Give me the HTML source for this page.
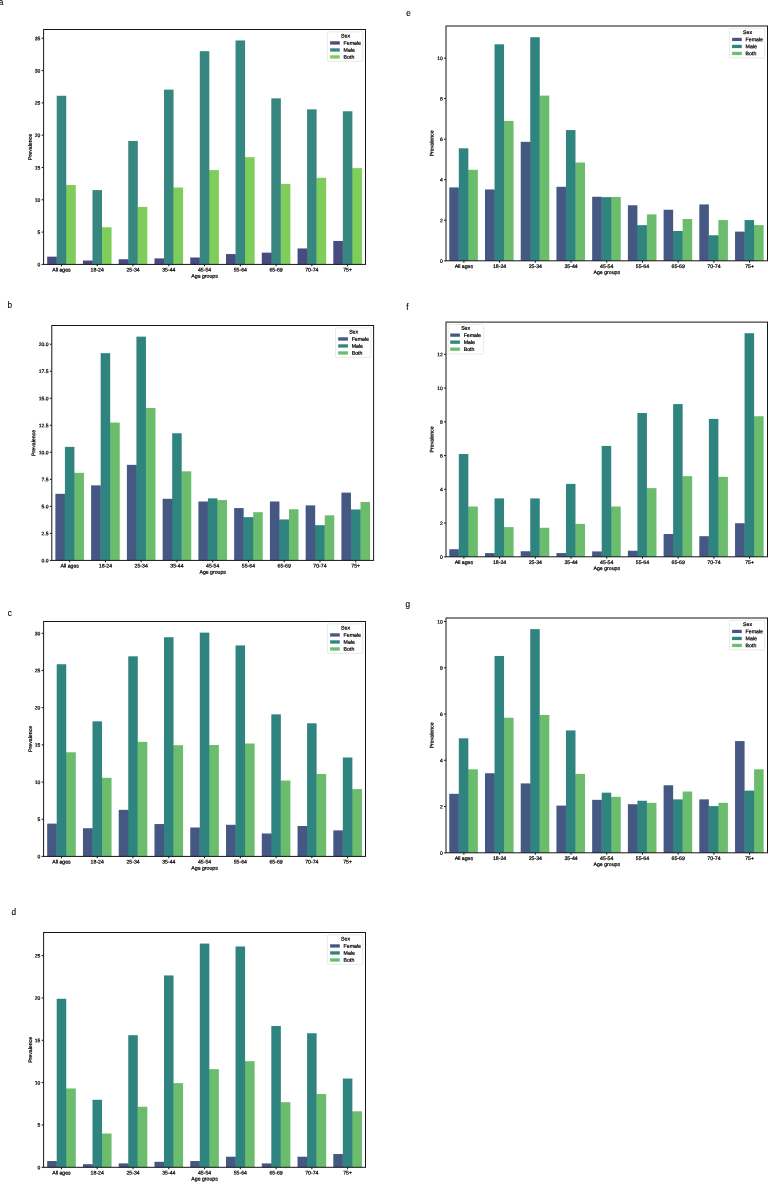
<!DOCTYPE html>
<html><head><meta charset="utf-8"><title>Prevalence by age group and sex</title>
<style>
html,body{margin:0;padding:0;background:#fff;}
body{width:768px;height:1182px;overflow:hidden;}
svg{display:block;will-change:transform;}
text{font-family:"Liberation Sans",sans-serif;font-size:5.2px;fill:#000;stroke:#000;stroke-width:0.22;}
.pl{font-size:8.2px;fill:#000;stroke:#000;stroke-width:0.12;}
.yt{font-size:5px;}
.tk{stroke:#000;stroke-width:0.95;}
.fr{fill:none;stroke:#151515;stroke-width:1;}
.lg{fill:#fff;fill-opacity:0.8;stroke:#d4d4d4;stroke-width:0.5;}
</style></head><body>
<svg width="768" height="1182" viewBox="0 0 768 1182">
<rect width="768" height="1182" fill="#fff"/>
<g>
<rect x="47.18" y="256.65" width="9.54" height="7.75" fill="#474b80"/>
<rect x="56.41" y="257.15" width="1.3" height="7.25" fill="#474b80"/>
<rect x="56.71" y="95.77" width="9.54" height="168.63" fill="#37867f"/>
<rect x="65.95" y="185.43" width="1.3" height="78.97" fill="#37867f"/>
<rect x="66.25" y="184.93" width="9.54" height="79.47" fill="#7fce5b"/>
<rect x="82.94" y="260.52" width="9.54" height="3.88" fill="#474b80"/>
<rect x="92.18" y="261.02" width="1.3" height="3.38" fill="#474b80"/>
<rect x="92.48" y="190.1" width="9.54" height="74.3" fill="#37867f"/>
<rect x="101.72" y="227.75" width="1.3" height="36.65" fill="#37867f"/>
<rect x="102.02" y="227.25" width="9.54" height="37.15" fill="#7fce5b"/>
<rect x="118.71" y="259.23" width="9.54" height="5.17" fill="#474b80"/>
<rect x="127.95" y="259.73" width="1.3" height="4.67" fill="#474b80"/>
<rect x="128.25" y="140.99" width="9.54" height="123.41" fill="#37867f"/>
<rect x="137.49" y="207.4" width="1.3" height="57" fill="#37867f"/>
<rect x="137.79" y="206.9" width="9.54" height="57.5" fill="#7fce5b"/>
<rect x="154.48" y="258.39" width="9.54" height="6.01" fill="#474b80"/>
<rect x="163.71" y="258.89" width="1.3" height="5.51" fill="#474b80"/>
<rect x="164.01" y="89.63" width="9.54" height="174.77" fill="#37867f"/>
<rect x="173.25" y="188.01" width="1.3" height="76.39" fill="#37867f"/>
<rect x="173.55" y="187.51" width="9.54" height="76.89" fill="#7fce5b"/>
<rect x="190.24" y="257.49" width="9.54" height="6.91" fill="#474b80"/>
<rect x="199.48" y="257.99" width="1.3" height="6.41" fill="#474b80"/>
<rect x="199.78" y="51.19" width="9.54" height="213.21" fill="#37867f"/>
<rect x="209.02" y="170.57" width="1.3" height="93.83" fill="#37867f"/>
<rect x="209.32" y="170.07" width="9.54" height="94.33" fill="#7fce5b"/>
<rect x="226.01" y="254.06" width="9.54" height="10.34" fill="#474b80"/>
<rect x="235.25" y="254.56" width="1.3" height="9.84" fill="#474b80"/>
<rect x="235.55" y="40.46" width="9.54" height="223.94" fill="#37867f"/>
<rect x="244.79" y="157.65" width="1.3" height="106.75" fill="#37867f"/>
<rect x="245.09" y="157.15" width="9.54" height="107.25" fill="#7fce5b"/>
<rect x="261.78" y="252.64" width="9.54" height="11.76" fill="#474b80"/>
<rect x="271.01" y="253.14" width="1.3" height="11.26" fill="#474b80"/>
<rect x="271.31" y="98.35" width="9.54" height="166.05" fill="#37867f"/>
<rect x="280.55" y="184.4" width="1.3" height="80" fill="#37867f"/>
<rect x="280.85" y="183.9" width="9.54" height="80.5" fill="#7fce5b"/>
<rect x="297.54" y="248.44" width="9.54" height="15.96" fill="#474b80"/>
<rect x="306.78" y="248.94" width="1.3" height="15.46" fill="#474b80"/>
<rect x="307.08" y="109.34" width="9.54" height="155.06" fill="#37867f"/>
<rect x="316.32" y="178.32" width="1.3" height="86.08" fill="#37867f"/>
<rect x="316.62" y="177.82" width="9.54" height="86.58" fill="#7fce5b"/>
<rect x="333.31" y="240.95" width="9.54" height="23.45" fill="#474b80"/>
<rect x="342.55" y="241.45" width="1.3" height="22.95" fill="#474b80"/>
<rect x="342.85" y="111.27" width="9.54" height="153.13" fill="#37867f"/>
<rect x="352.09" y="168.63" width="1.3" height="95.77" fill="#37867f"/>
<rect x="352.39" y="168.13" width="9.54" height="96.27" fill="#7fce5b"/>
<line x1="61.48" y1="264.4" x2="61.48" y2="266.3" class="tk"/>
<text transform="translate(61.48,271.6) rotate(0.03)" text-anchor="middle">All ages</text>
<line x1="97.25" y1="264.4" x2="97.25" y2="266.3" class="tk"/>
<text transform="translate(97.25,271.6) rotate(0.03)" text-anchor="middle">18-24</text>
<line x1="133.02" y1="264.4" x2="133.02" y2="266.3" class="tk"/>
<text transform="translate(133.02,271.6) rotate(0.03)" text-anchor="middle">25-34</text>
<line x1="168.78" y1="264.4" x2="168.78" y2="266.3" class="tk"/>
<text transform="translate(168.78,271.6) rotate(0.03)" text-anchor="middle">35-44</text>
<line x1="204.55" y1="264.4" x2="204.55" y2="266.3" class="tk"/>
<text transform="translate(204.55,271.6) rotate(0.03)" text-anchor="middle">45-54</text>
<line x1="240.32" y1="264.4" x2="240.32" y2="266.3" class="tk"/>
<text transform="translate(240.32,271.6) rotate(0.03)" text-anchor="middle">55-64</text>
<line x1="276.08" y1="264.4" x2="276.08" y2="266.3" class="tk"/>
<text transform="translate(276.08,271.6) rotate(0.03)" text-anchor="middle">65-69</text>
<line x1="311.85" y1="264.4" x2="311.85" y2="266.3" class="tk"/>
<text transform="translate(311.85,271.6) rotate(0.03)" text-anchor="middle">70-74</text>
<line x1="347.62" y1="264.4" x2="347.62" y2="266.3" class="tk"/>
<text transform="translate(347.62,271.6) rotate(0.03)" text-anchor="middle">75+</text>
<line x1="41.7" y1="264.4" x2="43.6" y2="264.4" class="tk"/>
<text transform="translate(40.3,266.3) rotate(0.03)" text-anchor="end" class="yt">0</text>
<line x1="41.7" y1="232.09" x2="43.6" y2="232.09" class="tk"/>
<text transform="translate(40.3,233.99) rotate(0.03)" text-anchor="end" class="yt">5</text>
<line x1="41.7" y1="199.79" x2="43.6" y2="199.79" class="tk"/>
<text transform="translate(40.3,201.69) rotate(0.03)" text-anchor="end" class="yt">10</text>
<line x1="41.7" y1="167.48" x2="43.6" y2="167.48" class="tk"/>
<text transform="translate(40.3,169.38) rotate(0.03)" text-anchor="end" class="yt">15</text>
<line x1="41.7" y1="135.18" x2="43.6" y2="135.18" class="tk"/>
<text transform="translate(40.3,137.08) rotate(0.03)" text-anchor="end" class="yt">20</text>
<line x1="41.7" y1="102.87" x2="43.6" y2="102.87" class="tk"/>
<text transform="translate(40.3,104.77) rotate(0.03)" text-anchor="end" class="yt">25</text>
<line x1="41.7" y1="70.57" x2="43.6" y2="70.57" class="tk"/>
<text transform="translate(40.3,72.47) rotate(0.03)" text-anchor="end" class="yt">30</text>
<line x1="41.7" y1="38.26" x2="43.6" y2="38.26" class="tk"/>
<text transform="translate(40.3,40.16) rotate(0.03)" text-anchor="end" class="yt">35</text>
<text transform="translate(204.55,277.7) rotate(0.03)" text-anchor="middle">Age groups</text>
<text transform="translate(31.8,146.95) rotate(-89.97)" text-anchor="middle">Prevalence</text>
<rect x="43.6" y="29.5" width="321.9" height="234.9" class="fr"/>
<rect x="327.4" y="31.8" width="35.4" height="29.6" rx="1" class="lg"/>
<text transform="translate(345.5,37.6) rotate(0.03)" text-anchor="middle">Sex</text>
<rect x="330.1" y="41.3" width="9.7" height="3.3" fill="#474b80"/>
<text transform="translate(343.6,44.8) rotate(0.03)">Female</text>
<rect x="330.1" y="48.3" width="9.7" height="3.3" fill="#37867f"/>
<text transform="translate(343.6,51.8) rotate(0.03)">Male</text>
<rect x="330.1" y="55.3" width="9.7" height="3.3" fill="#7fce5b"/>
<text transform="translate(343.6,58.8) rotate(0.03)">Both</text>
<text x="-1.2" y="5" class="pl">a</text>
</g>
<g>
<rect x="55.38" y="493.81" width="9.53" height="66.59" fill="#455783"/>
<rect x="64.61" y="494.31" width="1.3" height="66.09" fill="#455783"/>
<rect x="64.91" y="446.89" width="9.53" height="113.51" fill="#2f8480"/>
<rect x="74.15" y="473.34" width="1.3" height="87.06" fill="#2f8480"/>
<rect x="74.45" y="472.84" width="9.53" height="87.56" fill="#6bbd6d"/>
<rect x="91.13" y="485.38" width="9.53" height="75.02" fill="#455783"/>
<rect x="100.37" y="485.88" width="1.3" height="74.52" fill="#455783"/>
<rect x="100.67" y="353.17" width="9.53" height="207.23" fill="#2f8480"/>
<rect x="109.9" y="423.07" width="1.3" height="137.33" fill="#2f8480"/>
<rect x="110.2" y="422.57" width="9.53" height="137.83" fill="#6bbd6d"/>
<rect x="126.89" y="464.84" width="9.53" height="95.56" fill="#455783"/>
<rect x="136.12" y="465.34" width="1.3" height="95.06" fill="#455783"/>
<rect x="136.42" y="336.63" width="9.53" height="223.77" fill="#2f8480"/>
<rect x="145.66" y="408.48" width="1.3" height="151.92" fill="#2f8480"/>
<rect x="145.96" y="407.98" width="9.53" height="152.42" fill="#6bbd6d"/>
<rect x="162.64" y="498.78" width="9.53" height="61.62" fill="#455783"/>
<rect x="171.88" y="499.28" width="1.3" height="61.12" fill="#455783"/>
<rect x="172.18" y="433.27" width="9.53" height="127.13" fill="#2f8480"/>
<rect x="181.41" y="471.83" width="1.3" height="88.57" fill="#2f8480"/>
<rect x="181.71" y="471.33" width="9.53" height="89.07" fill="#6bbd6d"/>
<rect x="198.4" y="501.49" width="9.53" height="58.91" fill="#455783"/>
<rect x="207.63" y="501.99" width="1.3" height="58.41" fill="#455783"/>
<rect x="207.93" y="498.35" width="9.53" height="62.05" fill="#2f8480"/>
<rect x="217.17" y="500.58" width="1.3" height="59.82" fill="#2f8480"/>
<rect x="217.47" y="500.08" width="9.53" height="60.32" fill="#6bbd6d"/>
<rect x="234.15" y="508.08" width="9.53" height="52.32" fill="#455783"/>
<rect x="243.39" y="517.66" width="1.3" height="42.74" fill="#455783"/>
<rect x="243.69" y="517.16" width="9.53" height="43.24" fill="#2f8480"/>
<rect x="252.92" y="517.66" width="1.3" height="42.74" fill="#2f8480"/>
<rect x="253.22" y="512.19" width="9.53" height="48.21" fill="#6bbd6d"/>
<rect x="269.91" y="501.49" width="9.53" height="58.91" fill="#455783"/>
<rect x="279.14" y="519.93" width="1.3" height="40.47" fill="#455783"/>
<rect x="279.44" y="519.43" width="9.53" height="40.97" fill="#2f8480"/>
<rect x="288.68" y="519.93" width="1.3" height="40.47" fill="#2f8480"/>
<rect x="288.98" y="509.27" width="9.53" height="51.13" fill="#6bbd6d"/>
<rect x="305.66" y="505.38" width="9.53" height="55.02" fill="#455783"/>
<rect x="314.9" y="525.66" width="1.3" height="34.74" fill="#455783"/>
<rect x="315.2" y="525.16" width="9.53" height="35.24" fill="#2f8480"/>
<rect x="324.43" y="525.66" width="1.3" height="34.74" fill="#2f8480"/>
<rect x="324.73" y="515.32" width="9.53" height="45.08" fill="#6bbd6d"/>
<rect x="341.42" y="492.62" width="9.53" height="67.78" fill="#455783"/>
<rect x="350.65" y="509.98" width="1.3" height="50.42" fill="#455783"/>
<rect x="350.95" y="509.48" width="9.53" height="50.92" fill="#2f8480"/>
<rect x="360.19" y="509.98" width="1.3" height="50.42" fill="#2f8480"/>
<rect x="360.49" y="502.03" width="9.53" height="58.37" fill="#6bbd6d"/>
<line x1="69.68" y1="560.4" x2="69.68" y2="562.3" class="tk"/>
<text transform="translate(69.68,567.6) rotate(0.03)" text-anchor="middle">All ages</text>
<line x1="105.43" y1="560.4" x2="105.43" y2="562.3" class="tk"/>
<text transform="translate(105.43,567.6) rotate(0.03)" text-anchor="middle">18-24</text>
<line x1="141.19" y1="560.4" x2="141.19" y2="562.3" class="tk"/>
<text transform="translate(141.19,567.6) rotate(0.03)" text-anchor="middle">25-34</text>
<line x1="176.94" y1="560.4" x2="176.94" y2="562.3" class="tk"/>
<text transform="translate(176.94,567.6) rotate(0.03)" text-anchor="middle">35-44</text>
<line x1="212.7" y1="560.4" x2="212.7" y2="562.3" class="tk"/>
<text transform="translate(212.7,567.6) rotate(0.03)" text-anchor="middle">45-54</text>
<line x1="248.46" y1="560.4" x2="248.46" y2="562.3" class="tk"/>
<text transform="translate(248.46,567.6) rotate(0.03)" text-anchor="middle">55-64</text>
<line x1="284.21" y1="560.4" x2="284.21" y2="562.3" class="tk"/>
<text transform="translate(284.21,567.6) rotate(0.03)" text-anchor="middle">65-69</text>
<line x1="319.97" y1="560.4" x2="319.97" y2="562.3" class="tk"/>
<text transform="translate(319.97,567.6) rotate(0.03)" text-anchor="middle">70-74</text>
<line x1="355.72" y1="560.4" x2="355.72" y2="562.3" class="tk"/>
<text transform="translate(355.72,567.6) rotate(0.03)" text-anchor="middle">75+</text>
<line x1="49.9" y1="560.4" x2="51.8" y2="560.4" class="tk"/>
<text transform="translate(48.5,562.3) rotate(0.03)" text-anchor="end" class="yt">0.0</text>
<line x1="49.9" y1="533.38" x2="51.8" y2="533.38" class="tk"/>
<text transform="translate(48.5,535.27) rotate(0.03)" text-anchor="end" class="yt">2.5</text>
<line x1="49.9" y1="506.35" x2="51.8" y2="506.35" class="tk"/>
<text transform="translate(48.5,508.25) rotate(0.03)" text-anchor="end" class="yt">5.0</text>
<line x1="49.9" y1="479.32" x2="51.8" y2="479.32" class="tk"/>
<text transform="translate(48.5,481.22) rotate(0.03)" text-anchor="end" class="yt">7.5</text>
<line x1="49.9" y1="452.3" x2="51.8" y2="452.3" class="tk"/>
<text transform="translate(48.5,454.2) rotate(0.03)" text-anchor="end" class="yt">10.0</text>
<line x1="49.9" y1="425.27" x2="51.8" y2="425.27" class="tk"/>
<text transform="translate(48.5,427.17) rotate(0.03)" text-anchor="end" class="yt">12.5</text>
<line x1="49.9" y1="398.25" x2="51.8" y2="398.25" class="tk"/>
<text transform="translate(48.5,400.15) rotate(0.03)" text-anchor="end" class="yt">15.0</text>
<line x1="49.9" y1="371.22" x2="51.8" y2="371.22" class="tk"/>
<text transform="translate(48.5,373.12) rotate(0.03)" text-anchor="end" class="yt">17.5</text>
<line x1="49.9" y1="344.2" x2="51.8" y2="344.2" class="tk"/>
<text transform="translate(48.5,346.1) rotate(0.03)" text-anchor="end" class="yt">20.0</text>
<text transform="translate(212.7,573.7) rotate(0.03)" text-anchor="middle">Age groups</text>
<text transform="translate(35.2,442.95) rotate(-89.97)" text-anchor="middle">Prevalence</text>
<rect x="51.8" y="325.5" width="321.8" height="234.9" class="fr"/>
<rect x="335.5" y="327.8" width="35.4" height="29.6" rx="1" class="lg"/>
<text transform="translate(353.6,333.6) rotate(0.03)" text-anchor="middle">Sex</text>
<rect x="338.2" y="337.3" width="9.7" height="3.3" fill="#455783"/>
<text transform="translate(351.7,340.8) rotate(0.03)">Female</text>
<rect x="338.2" y="344.3" width="9.7" height="3.3" fill="#2f8480"/>
<text transform="translate(351.7,347.8) rotate(0.03)">Male</text>
<rect x="338.2" y="351.3" width="9.7" height="3.3" fill="#6bbd6d"/>
<text transform="translate(351.7,354.8) rotate(0.03)">Both</text>
<text x="7.5" y="308" class="pl">b</text>
</g>
<g>
<rect x="47.18" y="823.6" width="9.54" height="32.8" fill="#455783"/>
<rect x="56.41" y="824.1" width="1.3" height="32.3" fill="#455783"/>
<rect x="56.71" y="664.23" width="9.54" height="192.17" fill="#2f8480"/>
<rect x="65.95" y="752.78" width="1.3" height="103.62" fill="#2f8480"/>
<rect x="66.25" y="752.28" width="9.54" height="104.12" fill="#6bbd6d"/>
<rect x="82.94" y="828.21" width="9.54" height="28.19" fill="#455783"/>
<rect x="92.18" y="828.71" width="1.3" height="27.69" fill="#455783"/>
<rect x="92.48" y="721.34" width="9.54" height="135.06" fill="#2f8480"/>
<rect x="101.72" y="778.29" width="1.3" height="78.11" fill="#2f8480"/>
<rect x="102.02" y="777.79" width="9.54" height="78.61" fill="#6bbd6d"/>
<rect x="118.71" y="809.84" width="9.54" height="46.56" fill="#455783"/>
<rect x="127.95" y="810.34" width="1.3" height="46.06" fill="#455783"/>
<rect x="128.25" y="656.34" width="9.54" height="200.06" fill="#2f8480"/>
<rect x="137.49" y="742.37" width="1.3" height="114.03" fill="#2f8480"/>
<rect x="137.79" y="741.87" width="9.54" height="114.53" fill="#6bbd6d"/>
<rect x="154.48" y="824.05" width="9.54" height="32.35" fill="#455783"/>
<rect x="163.71" y="824.55" width="1.3" height="31.85" fill="#455783"/>
<rect x="164.01" y="637.23" width="9.54" height="219.17" fill="#2f8480"/>
<rect x="173.25" y="745.72" width="1.3" height="110.68" fill="#2f8480"/>
<rect x="173.55" y="745.22" width="9.54" height="111.18" fill="#6bbd6d"/>
<rect x="190.24" y="827.47" width="9.54" height="28.93" fill="#455783"/>
<rect x="199.48" y="827.97" width="1.3" height="28.43" fill="#455783"/>
<rect x="199.78" y="632.62" width="9.54" height="223.78" fill="#2f8480"/>
<rect x="209.02" y="745.49" width="1.3" height="110.91" fill="#2f8480"/>
<rect x="209.32" y="744.99" width="9.54" height="111.41" fill="#6bbd6d"/>
<rect x="226.01" y="824.79" width="9.54" height="31.61" fill="#455783"/>
<rect x="235.25" y="825.29" width="1.3" height="31.11" fill="#455783"/>
<rect x="235.55" y="645.41" width="9.54" height="210.99" fill="#2f8480"/>
<rect x="244.79" y="744.01" width="1.3" height="112.39" fill="#2f8480"/>
<rect x="245.09" y="743.51" width="9.54" height="112.89" fill="#6bbd6d"/>
<rect x="261.78" y="833.49" width="9.54" height="22.91" fill="#455783"/>
<rect x="271.01" y="833.99" width="1.3" height="22.41" fill="#455783"/>
<rect x="271.31" y="714.35" width="9.54" height="142.05" fill="#2f8480"/>
<rect x="280.55" y="781.04" width="1.3" height="75.36" fill="#2f8480"/>
<rect x="280.85" y="780.54" width="9.54" height="75.86" fill="#6bbd6d"/>
<rect x="297.54" y="825.98" width="9.54" height="30.42" fill="#455783"/>
<rect x="306.78" y="826.48" width="1.3" height="29.92" fill="#455783"/>
<rect x="307.08" y="723.28" width="9.54" height="133.12" fill="#2f8480"/>
<rect x="316.32" y="774.42" width="1.3" height="81.98" fill="#2f8480"/>
<rect x="316.62" y="773.92" width="9.54" height="82.48" fill="#6bbd6d"/>
<rect x="333.31" y="830.37" width="9.54" height="26.03" fill="#455783"/>
<rect x="342.55" y="830.87" width="1.3" height="25.53" fill="#455783"/>
<rect x="342.85" y="757.49" width="9.54" height="98.91" fill="#2f8480"/>
<rect x="352.09" y="789.6" width="1.3" height="66.8" fill="#2f8480"/>
<rect x="352.39" y="789.1" width="9.54" height="67.3" fill="#6bbd6d"/>
<line x1="61.48" y1="856.4" x2="61.48" y2="858.3" class="tk"/>
<text transform="translate(61.48,863.6) rotate(0.03)" text-anchor="middle">All ages</text>
<line x1="97.25" y1="856.4" x2="97.25" y2="858.3" class="tk"/>
<text transform="translate(97.25,863.6) rotate(0.03)" text-anchor="middle">18-24</text>
<line x1="133.02" y1="856.4" x2="133.02" y2="858.3" class="tk"/>
<text transform="translate(133.02,863.6) rotate(0.03)" text-anchor="middle">25-34</text>
<line x1="168.78" y1="856.4" x2="168.78" y2="858.3" class="tk"/>
<text transform="translate(168.78,863.6) rotate(0.03)" text-anchor="middle">35-44</text>
<line x1="204.55" y1="856.4" x2="204.55" y2="858.3" class="tk"/>
<text transform="translate(204.55,863.6) rotate(0.03)" text-anchor="middle">45-54</text>
<line x1="240.32" y1="856.4" x2="240.32" y2="858.3" class="tk"/>
<text transform="translate(240.32,863.6) rotate(0.03)" text-anchor="middle">55-64</text>
<line x1="276.08" y1="856.4" x2="276.08" y2="858.3" class="tk"/>
<text transform="translate(276.08,863.6) rotate(0.03)" text-anchor="middle">65-69</text>
<line x1="311.85" y1="856.4" x2="311.85" y2="858.3" class="tk"/>
<text transform="translate(311.85,863.6) rotate(0.03)" text-anchor="middle">70-74</text>
<line x1="347.62" y1="856.4" x2="347.62" y2="858.3" class="tk"/>
<text transform="translate(347.62,863.6) rotate(0.03)" text-anchor="middle">75+</text>
<line x1="41.7" y1="856.4" x2="43.6" y2="856.4" class="tk"/>
<text transform="translate(40.3,858.3) rotate(0.03)" text-anchor="end" class="yt">0</text>
<line x1="41.7" y1="819.21" x2="43.6" y2="819.21" class="tk"/>
<text transform="translate(40.3,821.11) rotate(0.03)" text-anchor="end" class="yt">5</text>
<line x1="41.7" y1="782.03" x2="43.6" y2="782.03" class="tk"/>
<text transform="translate(40.3,783.93) rotate(0.03)" text-anchor="end" class="yt">10</text>
<line x1="41.7" y1="744.85" x2="43.6" y2="744.85" class="tk"/>
<text transform="translate(40.3,746.75) rotate(0.03)" text-anchor="end" class="yt">15</text>
<line x1="41.7" y1="707.66" x2="43.6" y2="707.66" class="tk"/>
<text transform="translate(40.3,709.56) rotate(0.03)" text-anchor="end" class="yt">20</text>
<line x1="41.7" y1="670.47" x2="43.6" y2="670.47" class="tk"/>
<text transform="translate(40.3,672.37) rotate(0.03)" text-anchor="end" class="yt">25</text>
<line x1="41.7" y1="633.29" x2="43.6" y2="633.29" class="tk"/>
<text transform="translate(40.3,635.19) rotate(0.03)" text-anchor="end" class="yt">30</text>
<text transform="translate(204.55,869.7) rotate(0.03)" text-anchor="middle">Age groups</text>
<text transform="translate(31.9,738.95) rotate(-89.97)" text-anchor="middle">Prevalence</text>
<rect x="43.6" y="621.5" width="321.9" height="234.9" class="fr"/>
<rect x="327.4" y="623.8" width="35.4" height="29.6" rx="1" class="lg"/>
<text transform="translate(345.5,629.6) rotate(0.03)" text-anchor="middle">Sex</text>
<rect x="330.1" y="633.3" width="9.7" height="3.3" fill="#455783"/>
<text transform="translate(343.6,636.8) rotate(0.03)">Female</text>
<rect x="330.1" y="640.3" width="9.7" height="3.3" fill="#2f8480"/>
<text transform="translate(343.6,643.8) rotate(0.03)">Male</text>
<rect x="330.1" y="647.3" width="9.7" height="3.3" fill="#6bbd6d"/>
<text transform="translate(343.6,650.8) rotate(0.03)">Both</text>
<text x="7.7" y="616" class="pl">c</text>
</g>
<g>
<rect x="47.18" y="1161.03" width="9.54" height="6.27" fill="#455783"/>
<rect x="56.41" y="1161.53" width="1.3" height="5.77" fill="#455783"/>
<rect x="56.71" y="998.79" width="9.54" height="168.51" fill="#2f8480"/>
<rect x="65.95" y="1088.96" width="1.3" height="78.34" fill="#2f8480"/>
<rect x="66.25" y="1088.46" width="9.54" height="78.84" fill="#6bbd6d"/>
<rect x="82.94" y="1164.17" width="9.54" height="3.13" fill="#455783"/>
<rect x="92.18" y="1164.67" width="1.3" height="2.63" fill="#455783"/>
<rect x="92.48" y="1099.81" width="9.54" height="67.49" fill="#2f8480"/>
<rect x="101.72" y="1134.01" width="1.3" height="33.29" fill="#2f8480"/>
<rect x="102.02" y="1133.51" width="9.54" height="33.79" fill="#6bbd6d"/>
<rect x="118.71" y="1163.4" width="9.54" height="3.9" fill="#455783"/>
<rect x="127.95" y="1163.9" width="1.3" height="3.4" fill="#455783"/>
<rect x="128.25" y="1035.2" width="9.54" height="132.1" fill="#2f8480"/>
<rect x="137.49" y="1107.25" width="1.3" height="60.05" fill="#2f8480"/>
<rect x="137.79" y="1106.75" width="9.54" height="60.55" fill="#6bbd6d"/>
<rect x="154.48" y="1161.8" width="9.54" height="5.5" fill="#455783"/>
<rect x="163.71" y="1162.3" width="1.3" height="5" fill="#455783"/>
<rect x="164.01" y="975.42" width="9.54" height="191.88" fill="#2f8480"/>
<rect x="173.25" y="1083.63" width="1.3" height="83.67" fill="#2f8480"/>
<rect x="173.55" y="1083.13" width="9.54" height="84.17" fill="#6bbd6d"/>
<rect x="190.24" y="1161.03" width="9.54" height="6.27" fill="#455783"/>
<rect x="199.48" y="1161.53" width="1.3" height="5.77" fill="#455783"/>
<rect x="199.78" y="943.58" width="9.54" height="223.72" fill="#2f8480"/>
<rect x="209.02" y="1069.66" width="1.3" height="97.64" fill="#2f8480"/>
<rect x="209.32" y="1069.16" width="9.54" height="98.14" fill="#6bbd6d"/>
<rect x="226.01" y="1156.71" width="9.54" height="10.59" fill="#455783"/>
<rect x="235.25" y="1157.21" width="1.3" height="10.09" fill="#455783"/>
<rect x="235.55" y="946.45" width="9.54" height="220.85" fill="#2f8480"/>
<rect x="244.79" y="1061.7" width="1.3" height="105.6" fill="#2f8480"/>
<rect x="245.09" y="1061.2" width="9.54" height="106.1" fill="#6bbd6d"/>
<rect x="261.78" y="1163.4" width="9.54" height="3.9" fill="#455783"/>
<rect x="271.01" y="1163.9" width="1.3" height="3.4" fill="#455783"/>
<rect x="271.31" y="1025.97" width="9.54" height="141.33" fill="#2f8480"/>
<rect x="280.55" y="1102.68" width="1.3" height="64.62" fill="#2f8480"/>
<rect x="280.85" y="1102.18" width="9.54" height="65.12" fill="#6bbd6d"/>
<rect x="297.54" y="1156.71" width="9.54" height="10.59" fill="#455783"/>
<rect x="306.78" y="1157.21" width="1.3" height="10.09" fill="#455783"/>
<rect x="307.08" y="1033.25" width="9.54" height="134.05" fill="#2f8480"/>
<rect x="316.32" y="1094.47" width="1.3" height="72.83" fill="#2f8480"/>
<rect x="316.62" y="1093.97" width="9.54" height="73.33" fill="#6bbd6d"/>
<rect x="333.31" y="1154.01" width="9.54" height="13.29" fill="#455783"/>
<rect x="342.55" y="1154.51" width="1.3" height="12.79" fill="#455783"/>
<rect x="342.85" y="1078.56" width="9.54" height="88.74" fill="#2f8480"/>
<rect x="352.09" y="1111.83" width="1.3" height="55.47" fill="#2f8480"/>
<rect x="352.39" y="1111.33" width="9.54" height="55.97" fill="#6bbd6d"/>
<line x1="61.48" y1="1167.3" x2="61.48" y2="1169.2" class="tk"/>
<text transform="translate(61.48,1174.5) rotate(0.03)" text-anchor="middle">All ages</text>
<line x1="97.25" y1="1167.3" x2="97.25" y2="1169.2" class="tk"/>
<text transform="translate(97.25,1174.5) rotate(0.03)" text-anchor="middle">18-24</text>
<line x1="133.02" y1="1167.3" x2="133.02" y2="1169.2" class="tk"/>
<text transform="translate(133.02,1174.5) rotate(0.03)" text-anchor="middle">25-34</text>
<line x1="168.78" y1="1167.3" x2="168.78" y2="1169.2" class="tk"/>
<text transform="translate(168.78,1174.5) rotate(0.03)" text-anchor="middle">35-44</text>
<line x1="204.55" y1="1167.3" x2="204.55" y2="1169.2" class="tk"/>
<text transform="translate(204.55,1174.5) rotate(0.03)" text-anchor="middle">45-54</text>
<line x1="240.32" y1="1167.3" x2="240.32" y2="1169.2" class="tk"/>
<text transform="translate(240.32,1174.5) rotate(0.03)" text-anchor="middle">55-64</text>
<line x1="276.08" y1="1167.3" x2="276.08" y2="1169.2" class="tk"/>
<text transform="translate(276.08,1174.5) rotate(0.03)" text-anchor="middle">65-69</text>
<line x1="311.85" y1="1167.3" x2="311.85" y2="1169.2" class="tk"/>
<text transform="translate(311.85,1174.5) rotate(0.03)" text-anchor="middle">70-74</text>
<line x1="347.62" y1="1167.3" x2="347.62" y2="1169.2" class="tk"/>
<text transform="translate(347.62,1174.5) rotate(0.03)" text-anchor="middle">75+</text>
<line x1="41.7" y1="1167.3" x2="43.6" y2="1167.3" class="tk"/>
<text transform="translate(40.3,1169.2) rotate(0.03)" text-anchor="end" class="yt">0</text>
<line x1="41.7" y1="1124.96" x2="43.6" y2="1124.96" class="tk"/>
<text transform="translate(40.3,1126.86) rotate(0.03)" text-anchor="end" class="yt">5</text>
<line x1="41.7" y1="1082.62" x2="43.6" y2="1082.62" class="tk"/>
<text transform="translate(40.3,1084.52) rotate(0.03)" text-anchor="end" class="yt">10</text>
<line x1="41.7" y1="1040.28" x2="43.6" y2="1040.28" class="tk"/>
<text transform="translate(40.3,1042.18) rotate(0.03)" text-anchor="end" class="yt">15</text>
<line x1="41.7" y1="997.94" x2="43.6" y2="997.94" class="tk"/>
<text transform="translate(40.3,999.84) rotate(0.03)" text-anchor="end" class="yt">20</text>
<line x1="41.7" y1="955.6" x2="43.6" y2="955.6" class="tk"/>
<text transform="translate(40.3,957.5) rotate(0.03)" text-anchor="end" class="yt">25</text>
<text transform="translate(204.55,1180.6) rotate(0.03)" text-anchor="middle">Age groups</text>
<text transform="translate(31.9,1049.9) rotate(-89.97)" text-anchor="middle">Prevalence</text>
<rect x="43.6" y="932.5" width="321.9" height="234.8" class="fr"/>
<rect x="327.4" y="934.8" width="35.4" height="29.6" rx="1" class="lg"/>
<text transform="translate(345.5,940.6) rotate(0.03)" text-anchor="middle">Sex</text>
<rect x="330.1" y="944.3" width="9.7" height="3.3" fill="#455783"/>
<text transform="translate(343.6,947.8) rotate(0.03)">Female</text>
<rect x="330.1" y="951.3" width="9.7" height="3.3" fill="#2f8480"/>
<text transform="translate(343.6,954.8) rotate(0.03)">Male</text>
<rect x="330.1" y="958.3" width="9.7" height="3.3" fill="#6bbd6d"/>
<text transform="translate(343.6,961.8) rotate(0.03)">Both</text>
<text x="11.6" y="915" class="pl">d</text>
</g>
<g>
<rect x="449.27" y="187.42" width="9.53" height="73.38" fill="#455783"/>
<rect x="458.5" y="187.92" width="1.3" height="72.88" fill="#455783"/>
<rect x="458.8" y="148.3" width="9.53" height="112.5" fill="#2f8480"/>
<rect x="468.02" y="170.29" width="1.3" height="90.51" fill="#2f8480"/>
<rect x="468.32" y="169.79" width="9.53" height="91.01" fill="#6bbd6d"/>
<rect x="484.99" y="189.45" width="9.53" height="71.35" fill="#455783"/>
<rect x="494.22" y="189.95" width="1.3" height="70.85" fill="#455783"/>
<rect x="494.52" y="44.32" width="9.53" height="216.48" fill="#2f8480"/>
<rect x="503.75" y="121.44" width="1.3" height="139.36" fill="#2f8480"/>
<rect x="504.05" y="120.94" width="9.53" height="139.86" fill="#6bbd6d"/>
<rect x="520.72" y="141.82" width="9.53" height="118.98" fill="#455783"/>
<rect x="529.94" y="142.32" width="1.3" height="118.48" fill="#455783"/>
<rect x="530.24" y="37.22" width="9.53" height="223.58" fill="#2f8480"/>
<rect x="539.47" y="96.1" width="1.3" height="164.7" fill="#2f8480"/>
<rect x="539.77" y="95.6" width="9.53" height="165.2" fill="#6bbd6d"/>
<rect x="556.44" y="186.81" width="9.53" height="73.99" fill="#455783"/>
<rect x="565.66" y="187.31" width="1.3" height="73.49" fill="#455783"/>
<rect x="565.96" y="130.06" width="9.53" height="130.74" fill="#2f8480"/>
<rect x="575.19" y="162.99" width="1.3" height="97.81" fill="#2f8480"/>
<rect x="575.49" y="162.49" width="9.53" height="98.31" fill="#6bbd6d"/>
<rect x="592.16" y="196.75" width="9.53" height="64.05" fill="#455783"/>
<rect x="601.39" y="197.65" width="1.3" height="63.15" fill="#455783"/>
<rect x="601.69" y="197.15" width="9.53" height="63.65" fill="#2f8480"/>
<rect x="610.91" y="197.65" width="1.3" height="63.15" fill="#2f8480"/>
<rect x="611.21" y="196.95" width="9.53" height="63.85" fill="#6bbd6d"/>
<rect x="627.88" y="205.26" width="9.53" height="55.54" fill="#455783"/>
<rect x="637.11" y="225.62" width="1.3" height="35.18" fill="#455783"/>
<rect x="637.41" y="225.12" width="9.53" height="35.68" fill="#2f8480"/>
<rect x="646.64" y="225.62" width="1.3" height="35.18" fill="#2f8480"/>
<rect x="646.94" y="214.38" width="9.53" height="46.42" fill="#6bbd6d"/>
<rect x="663.61" y="209.72" width="9.53" height="51.08" fill="#455783"/>
<rect x="672.83" y="231.5" width="1.3" height="29.3" fill="#455783"/>
<rect x="673.13" y="231" width="9.53" height="29.8" fill="#2f8480"/>
<rect x="682.36" y="231.5" width="1.3" height="29.3" fill="#2f8480"/>
<rect x="682.66" y="219.04" width="9.53" height="41.76" fill="#6bbd6d"/>
<rect x="699.33" y="204.45" width="9.53" height="56.35" fill="#455783"/>
<rect x="708.55" y="235.76" width="1.3" height="25.04" fill="#455783"/>
<rect x="708.85" y="235.26" width="9.53" height="25.54" fill="#2f8480"/>
<rect x="718.08" y="235.76" width="1.3" height="25.04" fill="#2f8480"/>
<rect x="718.38" y="220.06" width="9.53" height="40.74" fill="#6bbd6d"/>
<rect x="735.05" y="231.61" width="9.53" height="29.19" fill="#455783"/>
<rect x="744.28" y="232.11" width="1.3" height="28.69" fill="#455783"/>
<rect x="744.58" y="220.06" width="9.53" height="40.74" fill="#2f8480"/>
<rect x="753.8" y="225.62" width="1.3" height="35.18" fill="#2f8480"/>
<rect x="754.1" y="225.12" width="9.53" height="35.68" fill="#6bbd6d"/>
<line x1="463.86" y1="260.8" x2="463.86" y2="262.7" class="tk"/>
<text transform="translate(463.86,268) rotate(0.03)" text-anchor="middle">All ages</text>
<line x1="499.58" y1="260.8" x2="499.58" y2="262.7" class="tk"/>
<text transform="translate(499.58,268) rotate(0.03)" text-anchor="middle">18-24</text>
<line x1="535.31" y1="260.8" x2="535.31" y2="262.7" class="tk"/>
<text transform="translate(535.31,268) rotate(0.03)" text-anchor="middle">25-34</text>
<line x1="571.03" y1="260.8" x2="571.03" y2="262.7" class="tk"/>
<text transform="translate(571.03,268) rotate(0.03)" text-anchor="middle">35-44</text>
<line x1="606.75" y1="260.8" x2="606.75" y2="262.7" class="tk"/>
<text transform="translate(606.75,268) rotate(0.03)" text-anchor="middle">45-54</text>
<line x1="642.47" y1="260.8" x2="642.47" y2="262.7" class="tk"/>
<text transform="translate(642.47,268) rotate(0.03)" text-anchor="middle">55-64</text>
<line x1="678.19" y1="260.8" x2="678.19" y2="262.7" class="tk"/>
<text transform="translate(678.19,268) rotate(0.03)" text-anchor="middle">65-69</text>
<line x1="713.92" y1="260.8" x2="713.92" y2="262.7" class="tk"/>
<text transform="translate(713.92,268) rotate(0.03)" text-anchor="middle">70-74</text>
<line x1="749.64" y1="260.8" x2="749.64" y2="262.7" class="tk"/>
<text transform="translate(749.64,268) rotate(0.03)" text-anchor="middle">75+</text>
<line x1="444.1" y1="260.8" x2="446" y2="260.8" class="tk"/>
<text transform="translate(442.7,262.7) rotate(0.03)" text-anchor="end" class="yt">0</text>
<line x1="444.1" y1="220.26" x2="446" y2="220.26" class="tk"/>
<text transform="translate(442.7,222.16) rotate(0.03)" text-anchor="end" class="yt">2</text>
<line x1="444.1" y1="179.72" x2="446" y2="179.72" class="tk"/>
<text transform="translate(442.7,181.62) rotate(0.03)" text-anchor="end" class="yt">4</text>
<line x1="444.1" y1="139.18" x2="446" y2="139.18" class="tk"/>
<text transform="translate(442.7,141.08) rotate(0.03)" text-anchor="end" class="yt">6</text>
<line x1="444.1" y1="98.64" x2="446" y2="98.64" class="tk"/>
<text transform="translate(442.7,100.54) rotate(0.03)" text-anchor="end" class="yt">8</text>
<line x1="444.1" y1="58.1" x2="446" y2="58.1" class="tk"/>
<text transform="translate(442.7,60) rotate(0.03)" text-anchor="end" class="yt">10</text>
<text transform="translate(606.75,274.1) rotate(0.03)" text-anchor="middle">Age groups</text>
<text transform="translate(433.6,143.4) rotate(-89.97)" text-anchor="middle">Prevalence</text>
<rect x="446" y="26" width="321.5" height="234.8" class="fr"/>
<rect x="729.4" y="28.3" width="35.4" height="29.6" rx="1" class="lg"/>
<text transform="translate(747.5,34.1) rotate(0.03)" text-anchor="middle">Sex</text>
<rect x="732.1" y="37.8" width="9.7" height="3.3" fill="#455783"/>
<text transform="translate(745.6,41.3) rotate(0.03)">Female</text>
<rect x="732.1" y="44.8" width="9.7" height="3.3" fill="#2f8480"/>
<text transform="translate(745.6,48.3) rotate(0.03)">Male</text>
<rect x="732.1" y="51.8" width="9.7" height="3.3" fill="#6bbd6d"/>
<text transform="translate(745.6,55.3) rotate(0.03)">Both</text>
<text x="406.2" y="16" class="pl">e</text>
</g>
<g>
<rect x="449.27" y="549.21" width="9.53" height="7.59" fill="#455783"/>
<rect x="458.5" y="549.71" width="1.3" height="7.09" fill="#455783"/>
<rect x="458.8" y="454.03" width="9.53" height="102.77" fill="#2f8480"/>
<rect x="468.02" y="507.01" width="1.3" height="49.79" fill="#2f8480"/>
<rect x="468.32" y="506.51" width="9.53" height="50.29" fill="#6bbd6d"/>
<rect x="484.99" y="553.09" width="9.53" height="3.71" fill="#455783"/>
<rect x="494.22" y="553.59" width="1.3" height="3.21" fill="#455783"/>
<rect x="494.52" y="498.41" width="9.53" height="58.39" fill="#2f8480"/>
<rect x="503.75" y="527.6" width="1.3" height="29.2" fill="#2f8480"/>
<rect x="504.05" y="527.1" width="9.53" height="29.7" fill="#6bbd6d"/>
<rect x="520.72" y="551.23" width="9.53" height="5.57" fill="#455783"/>
<rect x="529.94" y="551.73" width="1.3" height="5.07" fill="#455783"/>
<rect x="530.24" y="498.41" width="9.53" height="58.39" fill="#2f8480"/>
<rect x="539.47" y="528.27" width="1.3" height="28.52" fill="#2f8480"/>
<rect x="539.77" y="527.77" width="9.53" height="29.02" fill="#6bbd6d"/>
<rect x="556.44" y="553.09" width="9.53" height="3.71" fill="#455783"/>
<rect x="565.66" y="553.59" width="1.3" height="3.21" fill="#455783"/>
<rect x="565.96" y="483.9" width="9.53" height="72.9" fill="#2f8480"/>
<rect x="575.19" y="524.39" width="1.3" height="32.41" fill="#2f8480"/>
<rect x="575.49" y="523.89" width="9.53" height="32.91" fill="#6bbd6d"/>
<rect x="592.16" y="551.4" width="9.53" height="5.4" fill="#455783"/>
<rect x="601.39" y="551.9" width="1.3" height="4.9" fill="#455783"/>
<rect x="601.69" y="445.93" width="9.53" height="110.87" fill="#2f8480"/>
<rect x="610.91" y="507.01" width="1.3" height="49.79" fill="#2f8480"/>
<rect x="611.21" y="506.51" width="9.53" height="50.29" fill="#6bbd6d"/>
<rect x="627.88" y="550.72" width="9.53" height="6.08" fill="#455783"/>
<rect x="637.11" y="551.22" width="1.3" height="5.58" fill="#455783"/>
<rect x="637.41" y="413.02" width="9.53" height="143.78" fill="#2f8480"/>
<rect x="646.64" y="488.62" width="1.3" height="68.18" fill="#2f8480"/>
<rect x="646.94" y="488.12" width="9.53" height="68.68" fill="#6bbd6d"/>
<rect x="663.61" y="534.02" width="9.53" height="22.78" fill="#455783"/>
<rect x="672.83" y="534.52" width="1.3" height="22.28" fill="#455783"/>
<rect x="673.13" y="404.08" width="9.53" height="152.72" fill="#2f8480"/>
<rect x="682.36" y="476.64" width="1.3" height="80.16" fill="#2f8480"/>
<rect x="682.66" y="476.14" width="9.53" height="80.66" fill="#6bbd6d"/>
<rect x="699.33" y="536.21" width="9.53" height="20.59" fill="#455783"/>
<rect x="708.55" y="536.71" width="1.3" height="20.09" fill="#455783"/>
<rect x="708.85" y="418.93" width="9.53" height="137.87" fill="#2f8480"/>
<rect x="718.08" y="477.31" width="1.3" height="79.49" fill="#2f8480"/>
<rect x="718.38" y="476.81" width="9.53" height="79.99" fill="#6bbd6d"/>
<rect x="735.05" y="523.22" width="9.53" height="33.58" fill="#455783"/>
<rect x="744.28" y="523.72" width="1.3" height="33.08" fill="#455783"/>
<rect x="744.58" y="333.21" width="9.53" height="223.59" fill="#2f8480"/>
<rect x="753.8" y="416.73" width="1.3" height="140.07" fill="#2f8480"/>
<rect x="754.1" y="416.23" width="9.53" height="140.57" fill="#6bbd6d"/>
<line x1="463.86" y1="556.8" x2="463.86" y2="558.7" class="tk"/>
<text transform="translate(463.86,564) rotate(0.03)" text-anchor="middle">All ages</text>
<line x1="499.58" y1="556.8" x2="499.58" y2="558.7" class="tk"/>
<text transform="translate(499.58,564) rotate(0.03)" text-anchor="middle">18-24</text>
<line x1="535.31" y1="556.8" x2="535.31" y2="558.7" class="tk"/>
<text transform="translate(535.31,564) rotate(0.03)" text-anchor="middle">25-34</text>
<line x1="571.03" y1="556.8" x2="571.03" y2="558.7" class="tk"/>
<text transform="translate(571.03,564) rotate(0.03)" text-anchor="middle">35-44</text>
<line x1="606.75" y1="556.8" x2="606.75" y2="558.7" class="tk"/>
<text transform="translate(606.75,564) rotate(0.03)" text-anchor="middle">45-54</text>
<line x1="642.47" y1="556.8" x2="642.47" y2="558.7" class="tk"/>
<text transform="translate(642.47,564) rotate(0.03)" text-anchor="middle">55-64</text>
<line x1="678.19" y1="556.8" x2="678.19" y2="558.7" class="tk"/>
<text transform="translate(678.19,564) rotate(0.03)" text-anchor="middle">65-69</text>
<line x1="713.92" y1="556.8" x2="713.92" y2="558.7" class="tk"/>
<text transform="translate(713.92,564) rotate(0.03)" text-anchor="middle">70-74</text>
<line x1="749.64" y1="556.8" x2="749.64" y2="558.7" class="tk"/>
<text transform="translate(749.64,564) rotate(0.03)" text-anchor="middle">75+</text>
<line x1="444.1" y1="556.8" x2="446" y2="556.8" class="tk"/>
<text transform="translate(442.7,558.7) rotate(0.03)" text-anchor="end" class="yt">0</text>
<line x1="444.1" y1="523.05" x2="446" y2="523.05" class="tk"/>
<text transform="translate(442.7,524.95) rotate(0.03)" text-anchor="end" class="yt">2</text>
<line x1="444.1" y1="489.3" x2="446" y2="489.3" class="tk"/>
<text transform="translate(442.7,491.2) rotate(0.03)" text-anchor="end" class="yt">4</text>
<line x1="444.1" y1="455.55" x2="446" y2="455.55" class="tk"/>
<text transform="translate(442.7,457.45) rotate(0.03)" text-anchor="end" class="yt">6</text>
<line x1="444.1" y1="421.8" x2="446" y2="421.8" class="tk"/>
<text transform="translate(442.7,423.7) rotate(0.03)" text-anchor="end" class="yt">8</text>
<line x1="444.1" y1="388.05" x2="446" y2="388.05" class="tk"/>
<text transform="translate(442.7,389.95) rotate(0.03)" text-anchor="end" class="yt">10</text>
<line x1="444.1" y1="354.3" x2="446" y2="354.3" class="tk"/>
<text transform="translate(442.7,356.2) rotate(0.03)" text-anchor="end" class="yt">12</text>
<text transform="translate(606.75,570.1) rotate(0.03)" text-anchor="middle">Age groups</text>
<text transform="translate(433.6,439.45) rotate(-89.97)" text-anchor="middle">Prevalence</text>
<rect x="446" y="322.1" width="321.5" height="234.7" class="fr"/>
<rect x="448.2" y="324.4" width="35.4" height="29.6" rx="1" class="lg"/>
<text transform="translate(465.6,329.8) rotate(0.03)" text-anchor="middle">Sex</text>
<rect x="450.2" y="333.5" width="9.7" height="3.3" fill="#455783"/>
<text transform="translate(463.7,337) rotate(0.03)">Female</text>
<rect x="450.2" y="340.5" width="9.7" height="3.3" fill="#2f8480"/>
<text transform="translate(463.7,344) rotate(0.03)">Male</text>
<rect x="450.2" y="347.5" width="9.7" height="3.3" fill="#6bbd6d"/>
<text transform="translate(463.7,351) rotate(0.03)">Both</text>
<text x="406.3" y="310" class="pl">f</text>
</g>
<g>
<rect x="449.27" y="793.82" width="9.53" height="58.98" fill="#455783"/>
<rect x="458.5" y="794.32" width="1.3" height="58.48" fill="#455783"/>
<rect x="458.8" y="738.31" width="9.53" height="114.49" fill="#2f8480"/>
<rect x="468.02" y="769.8" width="1.3" height="83" fill="#2f8480"/>
<rect x="468.32" y="769.3" width="9.53" height="83.5" fill="#6bbd6d"/>
<rect x="484.99" y="773.23" width="9.53" height="79.57" fill="#455783"/>
<rect x="494.22" y="773.73" width="1.3" height="79.07" fill="#455783"/>
<rect x="494.52" y="655.96" width="9.53" height="196.84" fill="#2f8480"/>
<rect x="503.75" y="718.22" width="1.3" height="134.58" fill="#2f8480"/>
<rect x="504.05" y="717.72" width="9.53" height="135.08" fill="#6bbd6d"/>
<rect x="520.72" y="783.41" width="9.53" height="69.39" fill="#455783"/>
<rect x="529.94" y="783.91" width="1.3" height="68.89" fill="#455783"/>
<rect x="530.24" y="629.13" width="9.53" height="223.67" fill="#2f8480"/>
<rect x="539.47" y="715.45" width="1.3" height="137.35" fill="#2f8480"/>
<rect x="539.77" y="714.95" width="9.53" height="137.85" fill="#6bbd6d"/>
<rect x="556.44" y="805.61" width="9.53" height="47.19" fill="#455783"/>
<rect x="565.66" y="806.11" width="1.3" height="46.69" fill="#455783"/>
<rect x="565.96" y="730.44" width="9.53" height="122.36" fill="#2f8480"/>
<rect x="575.19" y="774.43" width="1.3" height="78.37" fill="#2f8480"/>
<rect x="575.49" y="773.93" width="9.53" height="78.87" fill="#6bbd6d"/>
<rect x="592.16" y="799.83" width="9.53" height="52.97" fill="#455783"/>
<rect x="601.39" y="800.33" width="1.3" height="52.47" fill="#455783"/>
<rect x="601.69" y="792.66" width="9.53" height="60.14" fill="#2f8480"/>
<rect x="610.91" y="797.33" width="1.3" height="55.47" fill="#2f8480"/>
<rect x="611.21" y="796.83" width="9.53" height="55.97" fill="#6bbd6d"/>
<rect x="627.88" y="804.23" width="9.53" height="48.57" fill="#455783"/>
<rect x="637.11" y="804.73" width="1.3" height="48.07" fill="#455783"/>
<rect x="637.41" y="800.76" width="9.53" height="52.04" fill="#2f8480"/>
<rect x="646.64" y="803.34" width="1.3" height="49.46" fill="#2f8480"/>
<rect x="646.94" y="802.84" width="9.53" height="49.96" fill="#6bbd6d"/>
<rect x="663.61" y="785.26" width="9.53" height="67.54" fill="#455783"/>
<rect x="672.83" y="799.87" width="1.3" height="52.93" fill="#455783"/>
<rect x="673.13" y="799.37" width="9.53" height="53.43" fill="#2f8480"/>
<rect x="682.36" y="799.87" width="1.3" height="52.93" fill="#2f8480"/>
<rect x="682.66" y="791.51" width="9.53" height="61.29" fill="#6bbd6d"/>
<rect x="699.33" y="799.37" width="9.53" height="53.43" fill="#455783"/>
<rect x="708.55" y="806.58" width="1.3" height="46.22" fill="#455783"/>
<rect x="708.85" y="806.08" width="9.53" height="46.72" fill="#2f8480"/>
<rect x="718.08" y="806.58" width="1.3" height="46.22" fill="#2f8480"/>
<rect x="718.38" y="802.84" width="9.53" height="49.96" fill="#6bbd6d"/>
<rect x="735.05" y="741.08" width="9.53" height="111.72" fill="#455783"/>
<rect x="744.28" y="791.08" width="1.3" height="61.72" fill="#455783"/>
<rect x="744.58" y="790.58" width="9.53" height="62.22" fill="#2f8480"/>
<rect x="753.8" y="791.08" width="1.3" height="61.72" fill="#2f8480"/>
<rect x="754.1" y="769.3" width="9.53" height="83.5" fill="#6bbd6d"/>
<line x1="463.86" y1="852.8" x2="463.86" y2="854.7" class="tk"/>
<text transform="translate(463.86,860) rotate(0.03)" text-anchor="middle">All ages</text>
<line x1="499.58" y1="852.8" x2="499.58" y2="854.7" class="tk"/>
<text transform="translate(499.58,860) rotate(0.03)" text-anchor="middle">18-24</text>
<line x1="535.31" y1="852.8" x2="535.31" y2="854.7" class="tk"/>
<text transform="translate(535.31,860) rotate(0.03)" text-anchor="middle">25-34</text>
<line x1="571.03" y1="852.8" x2="571.03" y2="854.7" class="tk"/>
<text transform="translate(571.03,860) rotate(0.03)" text-anchor="middle">35-44</text>
<line x1="606.75" y1="852.8" x2="606.75" y2="854.7" class="tk"/>
<text transform="translate(606.75,860) rotate(0.03)" text-anchor="middle">45-54</text>
<line x1="642.47" y1="852.8" x2="642.47" y2="854.7" class="tk"/>
<text transform="translate(642.47,860) rotate(0.03)" text-anchor="middle">55-64</text>
<line x1="678.19" y1="852.8" x2="678.19" y2="854.7" class="tk"/>
<text transform="translate(678.19,860) rotate(0.03)" text-anchor="middle">65-69</text>
<line x1="713.92" y1="852.8" x2="713.92" y2="854.7" class="tk"/>
<text transform="translate(713.92,860) rotate(0.03)" text-anchor="middle">70-74</text>
<line x1="749.64" y1="852.8" x2="749.64" y2="854.7" class="tk"/>
<text transform="translate(749.64,860) rotate(0.03)" text-anchor="middle">75+</text>
<line x1="444.1" y1="852.8" x2="446" y2="852.8" class="tk"/>
<text transform="translate(442.7,854.7) rotate(0.03)" text-anchor="end" class="yt">0</text>
<line x1="444.1" y1="806.54" x2="446" y2="806.54" class="tk"/>
<text transform="translate(442.7,808.44) rotate(0.03)" text-anchor="end" class="yt">2</text>
<line x1="444.1" y1="760.28" x2="446" y2="760.28" class="tk"/>
<text transform="translate(442.7,762.18) rotate(0.03)" text-anchor="end" class="yt">4</text>
<line x1="444.1" y1="714.02" x2="446" y2="714.02" class="tk"/>
<text transform="translate(442.7,715.92) rotate(0.03)" text-anchor="end" class="yt">6</text>
<line x1="444.1" y1="667.76" x2="446" y2="667.76" class="tk"/>
<text transform="translate(442.7,669.66) rotate(0.03)" text-anchor="end" class="yt">8</text>
<line x1="444.1" y1="621.5" x2="446" y2="621.5" class="tk"/>
<text transform="translate(442.7,623.4) rotate(0.03)" text-anchor="end" class="yt">10</text>
<text transform="translate(606.75,866.1) rotate(0.03)" text-anchor="middle">Age groups</text>
<text transform="translate(433.6,735.4) rotate(-89.97)" text-anchor="middle">Prevalence</text>
<rect x="446" y="618" width="321.5" height="234.8" class="fr"/>
<rect x="729.4" y="620.3" width="35.4" height="29.6" rx="1" class="lg"/>
<text transform="translate(747.5,626.1) rotate(0.03)" text-anchor="middle">Sex</text>
<rect x="732.1" y="629.8" width="9.7" height="3.3" fill="#455783"/>
<text transform="translate(745.6,633.3) rotate(0.03)">Female</text>
<rect x="732.1" y="636.8" width="9.7" height="3.3" fill="#2f8480"/>
<text transform="translate(745.6,640.3) rotate(0.03)">Male</text>
<rect x="732.1" y="643.8" width="9.7" height="3.3" fill="#6bbd6d"/>
<text transform="translate(745.6,647.3) rotate(0.03)">Both</text>
<text x="405.6" y="607" class="pl">g</text>
</g>
</svg>
</body></html>
